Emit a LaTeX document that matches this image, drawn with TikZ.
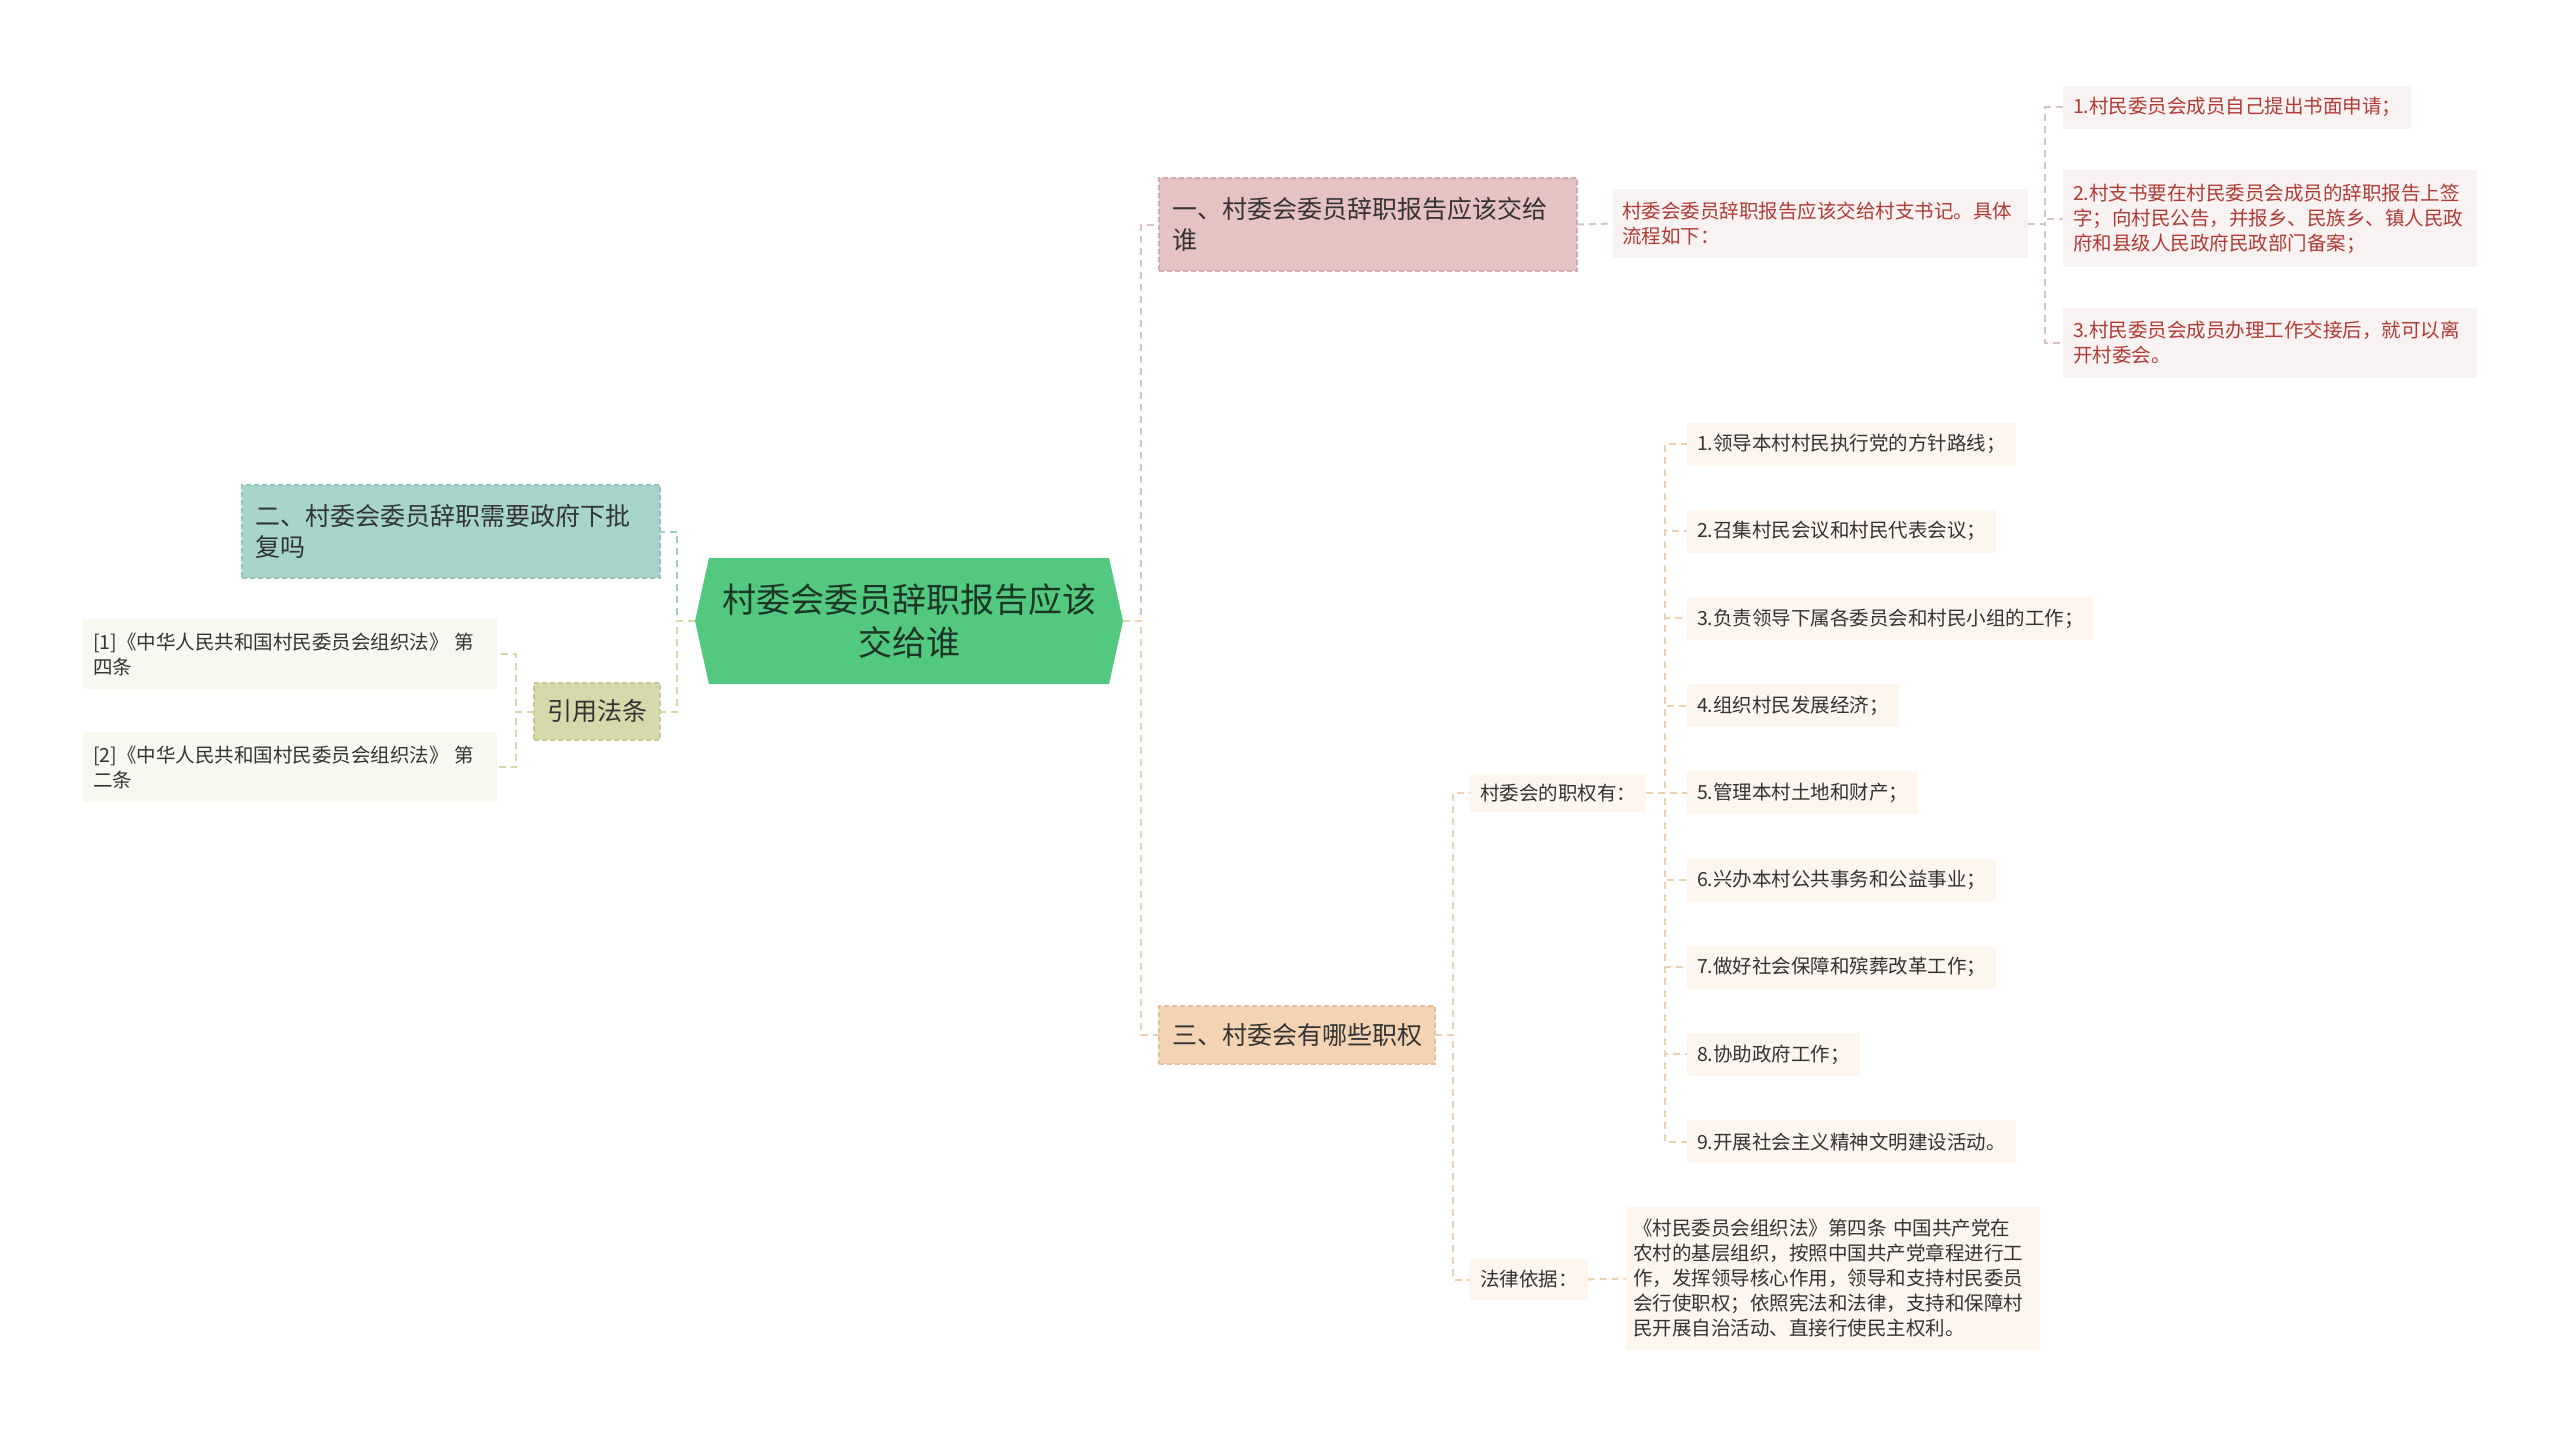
\documentclass[tikz,border=0pt]{standalone}
\usepackage{fontspec}
\setmainfont{Noto Sans CJK SC}
\usetikzlibrary{shapes.symbols}

\definecolor{rootgreen}{HTML}{52C880}
\definecolor{roottext}{HTML}{1C3526}
\definecolor{textdark}{HTML}{333333}
\definecolor{pinkfill}{HTML}{E6C3C3}
\definecolor{pinkedge}{HTML}{D6AAAD}
\definecolor{pinkline}{HTML}{D8C0C4}
\definecolor{rosefill}{HTML}{F8F2F2}
\definecolor{rosetext}{HTML}{B03B35}
\definecolor{tealfill}{HTML}{A8D5CB}
\definecolor{tealedge}{HTML}{90C4B8}
\definecolor{tealline}{HTML}{9ECDC3}
\definecolor{khakifill}{HTML}{D7D9AD}
\definecolor{khakiedge}{HTML}{C6C898}
\definecolor{khakiline}{HTML}{D5D7A8}
\definecolor{reffill}{HTML}{F8F8F0}
\definecolor{peachfill}{HTML}{F2D4B4}
\definecolor{peachedge}{HTML}{E6BF98}
\definecolor{peachline}{HTML}{EDD0B0}
\definecolor{peachleaf}{HTML}{FDF6EE}

\begin{document}
\begin{tikzpicture}[x=1pt, y=-1pt]
	\tikzstyle{every node}=[inner sep=0pt, outer sep=0pt]
	\tikzstyle{hub}=[shape=signal, signal to=west and east, signal pointer angle=155, fill=rootgreen, text=roottext, align=center, minimum width=428pt, minimum height=126pt, font=\fontsize{34}{43}\selectfont]
	\tikzstyle{topic}=[font=\fontsize{25}{31}\selectfont, text=textdark, inner xsep=13pt, align=left, line width=1.5pt, dash pattern=on 5pt off 3pt]
	\tikzstyle{leaf}=[font=\fontsize{19.5}{25}\selectfont, text=textdark, inner xsep=10pt, align=left, minimum height=43pt]
	\tikzstyle{link}=[line width=2pt, dash pattern=on 7pt off 5pt]

	\useasboundingbox (0,0) rectangle (2560,1435);

	% centre
	\node[hub] (root) at (909,621) {村委会委员辞职报告应该\\交给谁};

	% branch one
	\node[topic, fill=pinkfill, draw=pinkedge, text width=392pt, minimum height=93pt, anchor=west] (b1) at (1159,224.5) {一、村委会委员辞职报告应该交给\\谁};
	\node[leaf, fill=rosefill, text=rosetext, text width=397pt, inner xsep=9pt, minimum height=69pt, anchor=west] (b1c) at (1613,223.5) {村委会委员辞职报告应该交给村支书记。具体\\流程如下：};
	\node[leaf, fill=rosefill, text=rosetext, anchor=west] (g1) at (2063,107) {1.村民委员会成员自己提出书面申请；};
	\node[leaf, fill=rosefill, text=rosetext, text width=394pt, minimum height=97pt, anchor=west] (g2) at (2063,218.5) {2.村支书要在村民委员会成员的辞职报告上签\\字；向村民公告，并报乡、民族乡、镇人民政\\府和县级人民政府民政部门备案；};
	\node[leaf, fill=rosefill, text=rosetext, text width=394pt, minimum height=70pt, anchor=west] (g3) at (2063,343) {3.村民委员会成员办理工作交接后，就可以离\\开村委会。};

	% branch two
	\node[topic, fill=tealfill, draw=tealedge, text width=392pt, minimum height=93pt, anchor=east] (b2) at (660,531.5) {二、村委会委员辞职需要政府下批\\复吗};
	\node[topic, fill=khakifill, draw=khakiedge, minimum height=57pt, anchor=east] (cite) at (660,711.5) {引用法条};
	\node[leaf, fill=reffill, text width=394pt, minimum height=70pt, anchor=east] (ref1) at (497,654) {[1]《中华人民共和国村民委员会组织法》 第\\四条};
	\node[leaf, fill=reffill, text width=394pt, minimum height=70pt, anchor=east] (ref2) at (497,767) {[2]《中华人民共和国村民委员会组织法》 第\\二条};

	% branch three
	\node[topic, fill=peachfill, draw=peachedge, minimum height=58pt, anchor=west] (b3) at (1159,1035) {三、村委会有哪些职权};
	\node[leaf, fill=peachleaf, minimum height=38pt, anchor=west] (pw) at (1470,793) {村委会的职权有：};
	\node[leaf, fill=peachleaf, minimum height=41pt, anchor=west] (basis) at (1470,1279.5) {法律依据：};
	\node[leaf, fill=peachleaf, text width=400pt, inner xsep=7pt, minimum height=143pt, anchor=west] (law) at (1626,1278.5) {《村民委员会组织法》第四条 中国共产党在\\农村的基层组织，按照中国共产党章程进行工\\作，发挥领导核心作用，领导和支持村民委员\\会行使职权；依照宪法和法律，支持和保障村\\民开展自治活动、直接行使民主权利。};
	\foreach \t [count=\i] in {1.领导本村村民执行党的方针路线；, 2.召集村民会议和村民代表会议；, 3.负责领导下属各委员会和村民小组的工作；, 4.组织村民发展经济；, 5.管理本村土地和财产；, 6.兴办本村公共事务和公益事业；, 7.做好社会保障和殡葬改革工作；, 8.协助政府工作；, 9.开展社会主义精神文明建设活动。}
		\node[leaf, fill=peachleaf, anchor=west] (it\i) at (1687,{444+87.2*(\i-1)}) {\t};

	% connectors
	\draw[link, pinkline] (root.east) -- ++(18,0) |- (b1.west);
	\draw[link, peachline] (root.east) -- ++(18,0) |- (b3.west);
	\draw[link, tealline] (root.west) -- ++(-18,0) |- (b2.east);
	\draw[link, khakiline] (root.west) -- ++(-18,0) |- (cite.east);
	\draw[link, pinkline] (b1.east) -- (b1c.west);
	\foreach \g in {g1,g2,g3}
		\draw[link, pinkline] (b1c.east) -- ++(17,0) |- (\g.west);
	\foreach \r in {ref1,ref2}
		\draw[link, khakiline] (cite.west) -- ++(-18,0) |- (\r.east);
	\draw[link, peachline] (b3.east) -- ++(18,0) |- (pw.west);
	\draw[link, peachline] (b3.east) -- ++(18,0) |- (basis.west);
	\draw[link, peachline] (basis.east) -- (law.west);
	\foreach \i in {1,...,9}
		\draw[link, peachline] (pw.east) -- ++(19,0) |- (it\i.west);
\end{tikzpicture}
\end{document}
